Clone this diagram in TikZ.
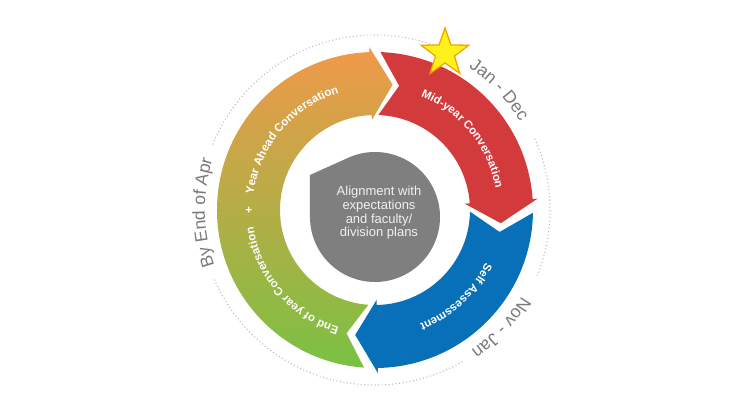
\documentclass[tikz,border=0pt]{standalone}
\usepackage{fontspec}
\setmainfont{Liberation Sans}
\usetikzlibrary{decorations.text,shapes.geometric}
\definecolor{orangeC}{HTML}{F0994A}
\definecolor{greenC}{HTML}{7AC143}
\definecolor{redC}{HTML}{D33A3C}
\definecolor{blueC}{HTML}{0870B8}
\definecolor{dropC}{HTML}{7F7F7F}
\definecolor{labelC}{HTML}{7A7A7A}
\definecolor{dotC}{HTML}{B5B5B5}
\definecolor{starFill}{HTML}{FFF21A}
\definecolor{starLine}{HTML}{F5A300}
\begin{document}
\begin{tikzpicture}[x=1pt,y=1pt,
  dotring/.style={draw=dotC, line width=1.1pt, dash pattern=on 0.9pt off 2.6pt},
  bandtext/.style={decorate, decoration={text along path, text align=center, text color=white,
      text={|\bfseries\fontsize{11.5}{13}\selectfont|#1}}},
  outertext/.style={decorate, decoration={text along path, text align=center, text color=labelC,
      text={|\fontsize{17.5}{19}\selectfont|#1}}}]
\useasboundingbox (-375,-190) rectangle (375,210);
\fill[white] (-375,-190) rectangle (375,210);

% dotted outer ring, broken at the labels
\draw[dotring] (24:175) arc[start angle=24, end angle=-22, radius=175];
\draw[dotring] (-60:175) arc[start angle=-60, end angle=-157, radius=175];
\draw[dotring] (158:175) arc[start angle=158, end angle=66, radius=175];

% green/orange arrow
\shade[top color=orangeC, bottom color=greenC]
  (266:158) arc[start angle=266, end angle=92, radius=158] -- (92:163) -- (82:126.5)
  -- (92:90) -- (92:95) arc[start angle=92, end angle=266, radius=95] -- (257:126.5) -- cycle;
% red arrow
\fill[redC]
  (88:158) arc[start angle=88, end angle=4, radius=158] -- (4:163) -- (-6:126.5)
  -- (4:90) -- (4:95) arc[start angle=4, end angle=88, radius=95] -- (79:126.5) -- cycle;
% blue arrow
\fill[blueC]
  (-1:158) arc[start angle=-1, end angle=-89, radius=158] -- (-89:163) -- (-99:126.5)
  -- (-89:90) -- (-89:95) arc[start angle=-89, end angle=-1, radius=95] -- (-10:126.5) -- cycle;

% band labels
\path[bandtext={Mid-year Conversation}] (80:122.5) arc[start angle=80, end angle=-2, radius=122.5];
\path[bandtext={Self Assessment}] (-5:122.5) arc[start angle=-5, end angle=-89, radius=122.5];
\path[bandtext={End of year Conversation{\kern13pt}+{\kern13pt}Year Ahead Conversation}]
  (268:122.5) arc[start angle=268, end angle=92, radius=122.5];

% outer labels
\path[outertext={Jan - Dec}] (66:170) arc[start angle=66, end angle=22, radius=170];
\path[outertext={Nov - Jan}] (-21:170) arc[start angle=-21, end angle=-65, radius=170];
\path[outertext={By End of Apr}] (204:170) arc[start angle=204, end angle=158, radius=170];

% star
\node[star, star points=5, star point ratio=2.5, minimum size=50pt, inner sep=0pt,
      fill=starFill, draw=starLine, line width=1.3pt] (star) at (70,157) {};

% centre drop
\fill[dropC] (-65,35) -- ([shift={(0,-7)}]114.2:65) arc[start angle=114.2, end angle=-180, radius=65] -- cycle;
\node[align=center, text=white!94!black, font=\fontsize{13}{13.7}\selectfont] (centre) at (4,-3)
  {Alignment with\\expectations\\and faculty/\\division plans};
\end{tikzpicture}
\end{document}
